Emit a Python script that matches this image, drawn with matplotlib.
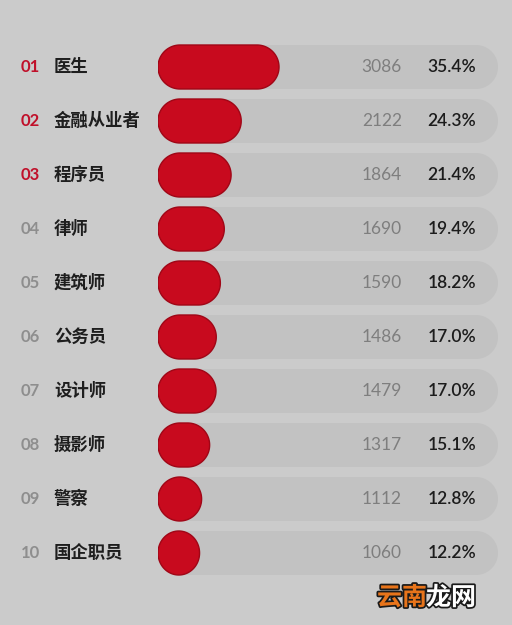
import matplotlib
matplotlib.use("Agg")
import numpy as np
import matplotlib.pyplot as plt
from matplotlib.patches import PathPatch
from matplotlib.path import Path
from matplotlib import transforms
import matplotlib.patheffects as pe

ranks = ["01", "02", "03", "04", "05", "06", "07", "08", "09", "10"]
jobs = ["医生", "金融从业者", "程序员", "律师", "建筑师", "公务员", "设计师", "摄影师", "警察", "国企职员"]
counts = [3086, 2122, 1864, 1690, 1590, 1486, 1479, 1317, 1112, 1060]
percents = ["35.4%", "24.3%", "21.4%", "19.4%", "18.2%", "17.0%", "17.0%", "15.1%", "12.8%", "12.2%"]
track_max = 8670

W, H = 512, 625
BG = "#cbcbcb"
TRACK = "#c2c2c2"
RED = "#c80a1e"
RED_EDGE = "#a00616"

fig = plt.figure(figsize=(W / 100, H / 100), dpi=100, facecolor=BG)

left, right = 158, 498
top, bottom = 40, 580
ax = fig.add_axes([left / W, 1 - bottom / H, (right - left) / W, (bottom - top) / H])
ax.set_facecolor("none")
ax.set_xlim(0, track_max)
ax.set_ylim(len(jobs) - 0.5, -0.5)
ax.axis("off")

x_per_px = track_max / (right - left)
y_per_px = 1 / 54
r_px = 22


def pill(ax, width, yc, fc, ec="none", lw=0, z=1):
    rx = min(r_px * x_per_px, width / 2)
    ry = r_px * y_per_px
    t1 = np.linspace(np.pi / 2, 3 * np.pi / 2, 60)
    t2 = np.linspace(-np.pi / 2, np.pi / 2, 60)
    xs = np.concatenate([rx + rx * np.cos(t1), (width - rx) + rx * np.cos(t2)])
    ys = np.concatenate([yc - ry * np.sin(t1), yc - ry * np.sin(t2)])
    verts = np.column_stack([xs, ys])
    verts = np.vstack([verts, verts[:1]])
    codes = [Path.MOVETO] + [Path.LINETO] * (len(verts) - 2) + [Path.CLOSEPOLY]
    ax.add_patch(PathPatch(Path(verts, codes), facecolor=fc, edgecolor=ec,
                           linewidth=lw, zorder=z))


for i, v in enumerate(counts):
    pill(ax, track_max, i, TRACK, z=1)
    pill(ax, v, i, RED, ec=RED_EDGE, lw=1.0, z=2)

tr = transforms.blended_transform_factory(fig.transFigure, ax.transData)
cjk = ["Noto Sans CJK SC", "DejaVu Sans"]
num = ["Lato", "DejaVu Sans"]
for i in range(len(jobs)):
    rc = "#c0102a" if i < 3 else "#8e8e8e"
    ax.text(21 / W, i, ranks[i], transform=tr, ha="left", va="center",
            fontsize=12, fontweight="bold", color=rc, family=num)
    ax.text(54 / W, i, jobs[i], transform=tr, ha="left", va="center",
            fontsize=12.5, fontweight="bold", color="#1e1e1e", family=cjk)
    ax.text(402 / W, i, f"{counts[i]}", transform=tr, ha="right", va="center",
            fontsize=12.5, color="#7e7e7e", family=num)
    ax.text(476 / W, i, percents[i], transform=tr, ha="right", va="center",
            fontsize=12.5, fontweight="semibold", color="#1c1c1c", family=num)

stroke = [pe.withStroke(linewidth=2.5, foreground="#1a1a1a")]
fig.text(377 / W, 1 - 598 / H, "云南", ha="left", va="center", fontsize=18,
         fontweight="bold", color="#e8741a", family=cjk, path_effects=stroke)
fig.text(426 / W, 1 - 598 / H, "龙网", ha="left", va="center", fontsize=18,
         fontweight="bold", color="#ffffff", family=cjk, path_effects=stroke)

fig.savefig("out.png", dpi=100, facecolor=BG)
